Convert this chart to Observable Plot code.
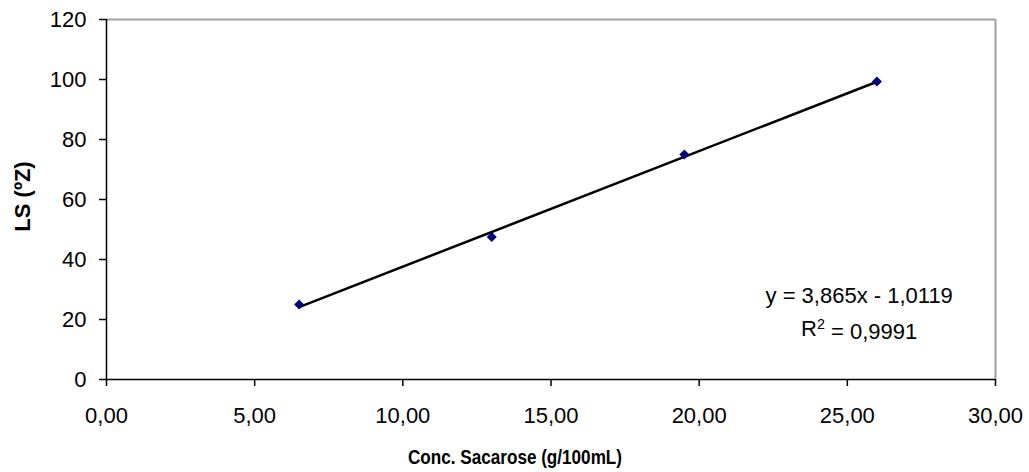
<!DOCTYPE html>
<html>
<head>
<meta charset="utf-8">
<script src="https://cdn.jsdelivr.net/npm/d3@7"></script>
<script src="https://cdn.jsdelivr.net/npm/@observablehq/plot@0.6"></script>
<style>
  html, body { margin: 0; padding: 0; background: #fff; }
  #chart svg { display: block; }
</style>
</head>
<body>
<div id="chart"></div>
<script>
// Data
const concSacarose = [6.5, 13, 19.5, 26];      // g/100mL
const lsValues = [25, 47.5, 75, 99.3];          // ºZ
const xTicks = [0, 5, 10, 15, 20, 25, 30];
const yTicks = [0, 20, 40, 60, 80, 100, 120];
const equationLines = ["y = 3,865x - 1,0119", "R² = 0,9991"];
const xLabel = "Conc. Sacarose (g/100mL)";
const yLabel = "LS (ºZ)";

const rows = concSacarose.map((x, i) => ({x, y: lsValues[i]}));
const ptFormat = d3.formatLocale({decimal: ",", thousands: ".", grouping: [3], currency: ["", ""]}).format(".2f");

const chart = Plot.plot({
  width: 1029,
  height: 472,
  marginLeft: 106,
  marginRight: 34,
  marginTop: 19,
  marginBottom: 93,
  style: {fontFamily: "'Liberation Sans', Arial, sans-serif", fontSize: "22px", color: "#000", background: "#fff"},
  x: {domain: [0, 30], ticks: xTicks, tickFormat: ptFormat},
  y: {domain: [0, 120], ticks: yTicks},
  marks: [
    Plot.ruleY([120], {stroke: "#a0a0a0", strokeWidth: 2}),
    Plot.ruleX([30], {stroke: "#a0a0a0", strokeWidth: 2}),
    Plot.ruleX([0], {stroke: "#000", strokeWidth: 1.5}),
    Plot.ruleY([0], {stroke: "#000", strokeWidth: 1.5}),
    Plot.axisX({ticks: xTicks, tickFormat: ptFormat, tickSize: 7, tickPadding: 21, label: null, stroke: "#000", strokeWidth: 1.5}),
    Plot.axisY({ticks: yTicks, tickSize: 7, tickPadding: 13, label: null, stroke: "#000", strokeWidth: 1.5}),
    Plot.linearRegressionY(rows, {x: "x", y: "y", ci: 0, stroke: "#000", strokeWidth: 2.5}),
    Plot.dot(rows, {x: "x", y: "y", symbol: "square", rotate: 45, r: 4, fill: "#000080", stroke: "none"}),
    Plot.text([equationLines[0]], {x: 25.4, y: 28, text: d => d, fontSize: 22, fill: "#000"}),
    Plot.text([equationLines[1]], {x: 25.4, y: 17, text: d => d, fontSize: 22, fill: "#000"}),
    Plot.text([xLabel], {frameAnchor: "bottom", dy: 84, dx: -36, text: d => d, fontSize: 20.5, fontWeight: "bold", fill: "#000"}),
    Plot.text([yLabel], {frameAnchor: "left", textAnchor: "middle", dx: -84, dy: -3, rotate: -90, text: d => d, fontSize: 22, fontWeight: "bold", fill: "#000"})
  ]
});
document.getElementById("chart").appendChild(chart);

const texts = d3.select(chart).selectAll("text");

// Render the superscript in R² as a raised smaller "2"
texts.filter(function() { return this.textContent === equationLines[1]; })
  .each(function() {
    const t = d3.select(this);
    t.text(null);
    t.append("tspan").text("R");
    t.append("tspan").attr("dy", "-0.45em").attr("font-size", "0.65em").text("2");
    t.append("tspan").attr("dy", "0.45em").text(" = 0,9991");
  });

// The reference's axis title is tall but narrow: fit it to its width
texts.filter(function() { return this.textContent === xLabel; })
  .attr("textLength", 214)
  .attr("lengthAdjust", "spacingAndGlyphs");
</script>
</body>
</html>
